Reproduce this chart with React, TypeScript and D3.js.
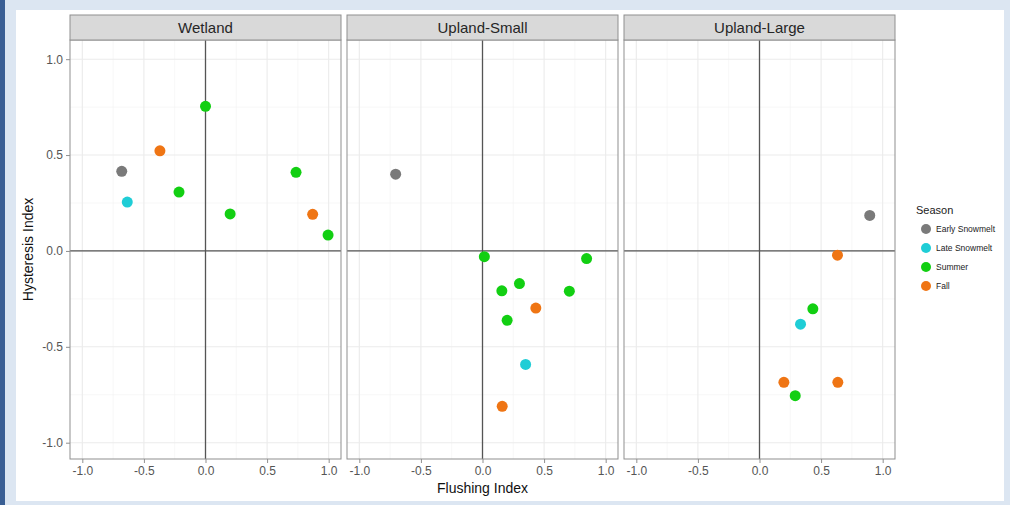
import { useEffect, useRef } from "react";
import * as d3 from "d3";

const sites = ["Wetland", "Upland-Small", "Upland-Large"];
const seasons = ["Early Snowmelt", "Late Snowmelt", "Summer", "Fall"];
const seasonColors = ["#7a7a7a", "#1fcdd6", "#12cf12", "#ef7514"];
const tickValues = [-1.0, -0.5, 0.0, 0.5, 1.0];

// one array per column: site, season, flushing index, hysteresis index
const pointSite = [
  "Wetland", "Wetland", "Wetland", "Wetland", "Wetland", "Wetland", "Wetland", "Wetland", "Wetland",
  "Upland-Small", "Upland-Small", "Upland-Small", "Upland-Small", "Upland-Small",
  "Upland-Small", "Upland-Small", "Upland-Small", "Upland-Small", "Upland-Small",
  "Upland-Large", "Upland-Large", "Upland-Large", "Upland-Large", "Upland-Large", "Upland-Large", "Upland-Large",
];
const pointSeason = [
  "Early Snowmelt", "Late Snowmelt", "Fall", "Summer", "Summer", "Summer", "Summer", "Fall", "Summer",
  "Early Snowmelt", "Summer", "Summer", "Summer", "Summer",
  "Summer", "Fall", "Summer", "Late Snowmelt", "Fall",
  "Early Snowmelt", "Fall", "Summer", "Late Snowmelt", "Fall", "Fall", "Summer",
];
const flushing = [
  -0.68, -0.635, -0.37, -0.215, 0.0, 0.2, 0.735, 0.87, 0.995,
  -0.705, 0.015, 0.845, 0.3, 0.157,
  0.705, 0.433, 0.2, 0.35, 0.16,
  0.895, 0.633, 0.433, 0.333, 0.198, 0.636, 0.29,
];
const hysteresis = [
  0.415, 0.255, 0.522, 0.307, 0.754, 0.193, 0.41, 0.191, 0.083,
  0.4, -0.03, -0.04, -0.17, -0.208,
  -0.21, -0.298, -0.362, -0.592, -0.81,
  0.185, -0.022, -0.302, -0.382, -0.685, -0.685, -0.755,
];

const W = 1010;
const H = 505;

// ggplot style labels: plain hyphen, one decimal
const fmt = (d: d3.NumberValue) => d3.format(".1f")(d).replace("−", "-");

export default function App() {
  const svgRef = useRef<SVGSVGElement>(null);

  useEffect(() => {
    if (!svgRef.current) return;
    const svg = d3.select(svgRef.current);
    svg.selectAll("*").remove();

    const font = "'Liberation Sans', Arial, sans-serif";
    const panelW = 271;
    const gap = 6;
    const left = 70;
    const top = 40;
    const bottom = 459;
    const stripH = 25;

    // page frame
    svg.append("rect").attr("width", W).attr("height", H).attr("fill", "#dce6f2");
    svg.append("rect").attr("width", 5).attr("height", H).attr("fill", "#3a5f94");
    svg.append("rect").attr("x", 16).attr("y", 10).attr("width", 988).attr("height", 491).attr("fill", "#ffffff");

    const yScale = d3.scaleLinear().domain([-1.085, 1.1]).range([bottom, top]);
    const color = d3.scaleOrdinal<string, string>().domain(seasons).range(seasonColors);

    const minorTicks = d3.range(-1.0, 1.01, 0.25).filter((v) => Math.abs(v * 2 - Math.round(v * 2)) > 0.01);

    sites.forEach((site, si) => {
      const x0 = left + si * (panelW + gap);
      const xScale = d3.scaleLinear().domain([-1.1, 1.1]).range([x0, x0 + panelW]);
      const g = svg.append("g");

      // minor grid
      minorTicks.forEach((t) => {
        g.append("line").attr("x1", xScale(t)).attr("x2", xScale(t)).attr("y1", top).attr("y2", bottom)
          .attr("stroke", "#f4f4f4").attr("stroke-width", 0.6);
        g.append("line").attr("x1", x0).attr("x2", x0 + panelW).attr("y1", yScale(t)).attr("y2", yScale(t))
          .attr("stroke", "#f4f4f4").attr("stroke-width", 0.6);
      });
      // major grid
      tickValues.forEach((t) => {
        g.append("line").attr("x1", xScale(t)).attr("x2", xScale(t)).attr("y1", top).attr("y2", bottom)
          .attr("stroke", "#ebebeb").attr("stroke-width", 1.1);
        g.append("line").attr("x1", x0).attr("x2", x0 + panelW).attr("y1", yScale(t)).attr("y2", yScale(t))
          .attr("stroke", "#ebebeb").attr("stroke-width", 1.1);
      });

      // zero lines
      g.append("line").attr("x1", xScale(0)).attr("x2", xScale(0)).attr("y1", top).attr("y2", bottom)
        .attr("stroke", "#555555").attr("stroke-width", 1.3);
      g.append("line").attr("x1", x0).attr("x2", x0 + panelW).attr("y1", yScale(0)).attr("y2", yScale(0))
        .attr("stroke", "#555555").attr("stroke-width", 1.3);

      // points
      const idx = d3.range(pointSite.length).filter((i) => pointSite[i] === site);
      g.selectAll("circle.pt")
        .data(idx)
        .enter()
        .append("circle")
        .attr("class", "pt")
        .attr("cx", (i) => xScale(flushing[i]))
        .attr("cy", (i) => yScale(hysteresis[i]))
        .attr("r", 5.5)
        .attr("fill", (i) => color(pointSeason[i]));

      // panel border
      g.append("rect").attr("x", x0).attr("y", top).attr("width", panelW).attr("height", bottom - top)
        .attr("fill", "none").attr("stroke", "#8f8f8f").attr("stroke-width", 1);

      // strip
      g.append("rect").attr("x", x0).attr("y", top - stripH).attr("width", panelW).attr("height", stripH)
        .attr("fill", "#d9d9d9").attr("stroke", "#8f8f8f").attr("stroke-width", 1);
      g.append("text").attr("x", x0 + panelW / 2).attr("y", top - stripH / 2).attr("dy", "0.36em")
        .attr("text-anchor", "middle").attr("font-family", font).attr("font-size", 15).attr("fill", "#262626")
        .text(site);

      // x axis
      const xa = g.append("g").attr("transform", `translate(0,${bottom})`)
        .call(d3.axisBottom(xScale).tickValues(tickValues).tickFormat(fmt).tickSizeOuter(0).tickSize(4).tickPadding(3));
      xa.select(".domain").remove();
      xa.selectAll("line").attr("stroke", "#8f8f8f");
      xa.selectAll("text").attr("font-family", font).attr("font-size", 12).attr("fill", "#555555");
    });

    // y axis
    const ya = svg.append("g").attr("transform", `translate(${left},0)`)
      .call(d3.axisLeft(yScale).tickValues(tickValues).tickFormat(fmt).tickSizeOuter(0).tickSize(4).tickPadding(3));
    ya.select(".domain").remove();
    ya.selectAll("line").attr("stroke", "#8f8f8f");
    ya.selectAll("text").attr("font-family", font).attr("font-size", 12).attr("fill", "#555555");

    // axis titles
    svg.append("text").attr("x", left + (3 * panelW + 2 * gap) / 2).attr("y", 493)
      .attr("text-anchor", "middle").attr("font-family", font).attr("font-size", 14).attr("fill", "#111")
      .text("Flushing Index");
    svg.append("text").attr("transform", `translate(33,${(top + bottom) / 2}) rotate(-90)`)
      .attr("text-anchor", "middle").attr("font-family", font).attr("font-size", 14).attr("fill", "#111")
      .text("Hysteresis Index");

    // legend
    const lg = svg.append("g").attr("transform", "translate(916,0)");
    lg.append("text").attr("x", 0).attr("y", 214).attr("font-family", font).attr("font-size", 11).attr("fill", "#222")
      .text("Season");
    seasons.forEach((s, i) => {
      const cy = 229 + i * 19;
      lg.append("circle").attr("cx", 10).attr("cy", cy).attr("r", 5).attr("fill", color(s));
      lg.append("text").attr("x", 20).attr("y", cy).attr("dy", "0.35em").attr("font-family", font)
        .attr("font-size", 8.5).attr("fill", "#222").text(s);
    });
  }, []);

  return (
    <svg
      ref={svgRef}
      width={W}
      height={H}
      style={{ position: "absolute", left: 0, top: 0, display: "block" }}
    />
  );
}
